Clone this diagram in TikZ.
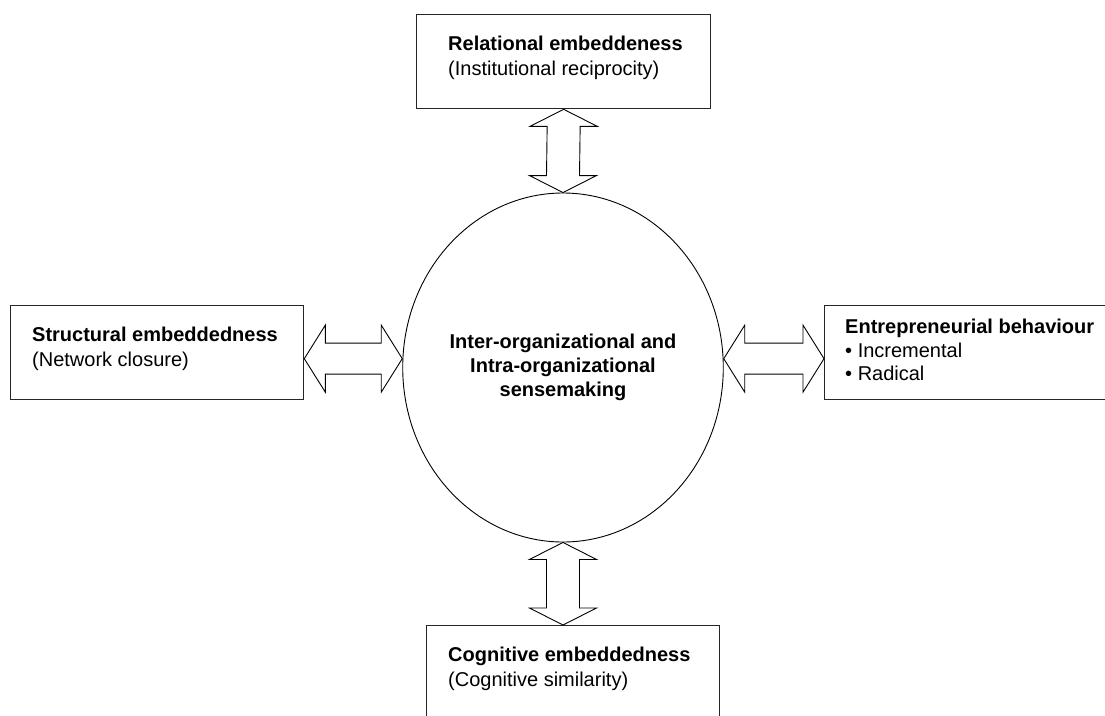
\documentclass[tikz,border=0pt]{standalone}
\usepackage{fontspec}
\setmainfont{Liberation Sans}
\usetikzlibrary{shapes.geometric,calc}

% hollow double block arrows between two named points
% vertical: first point is the upper tip, second the lower tip
\newcommand\vblock[2]{%
  \draw[blk] (#1) -- ++(33.5,17) -- ++(-17,0)
    -- ($(#2)+(16.5,-17)$) -- ($(#2)+(33.5,-17)$) -- (#2)
    -- ($(#2)+(-33.5,-17)$) -- ($(#2)+(-16.5,-17)$)
    -- ($(#1)+(-16.5,17)$) -- ($(#1)+(-33.5,17)$) -- cycle;}
% horizontal: first point is the left tip, second the right tip
\newcommand\hblock[2]{%
  \draw[blk] (#1) -- ++(21,-33.5) -- ++(0,18)
    -- ($(#2)+(-21,-15.5)$) -- ($(#2)+(-21,-33.5)$) -- (#2)
    -- ($(#2)+(-21,33.5)$) -- ($(#2)+(-21,15.5)$)
    -- ($(#1)+(21,15.5)$) -- ($(#1)+(21,33.5)$) -- cycle;}

\begin{document}
\begin{tikzpicture}[x=1pt,y=-1pt,
  box/.style={draw=black!85,line width=1.3pt,rectangle,inner sep=0pt,anchor=north west},
  hub/.style={draw,ellipse,line width=0.9pt,inner sep=0pt,
    minimum width=312pt,minimum height=349pt,align=center,
    font=\fontsize{20}{24}\selectfont\bfseries},
  head/.style={anchor=base west,inner sep=0pt,font=\fontsize{20}{24}\selectfont\bfseries},
  sub/.style={anchor=base west,inner sep=0pt,font=\fontsize{20}{24}\selectfont},
  blk/.style={draw,line width=0.9pt,line join=miter}]
\clip (0,0) rectangle (1105,715);
\fill[white] (0,0) rectangle (1105,715);

% the four surrounding boxes
\node[box,minimum width=294pt,minimum height=94pt] (rel) at (416,14) {};
\node[box,minimum width=293pt,minimum height=94pt] (str) at (10,305) {};
\node[box,minimum width=300pt,minimum height=94pt] (ent) at (824,305) {};
\node[box,minimum width=293pt,minimum height=120pt] (cog) at (426,625) {};

% central ellipse
\node[hub] (hub) at (563,367.5)
  {Inter-organizational and\\Intra-organizational\\sensemaking};

% box texts
\node[head] (relT) at ($(rel.north west)+(32,36)$) {Relational embeddeness};
\node[sub]  (relS) at ($(rel.north west)+(32,61)$) {(Institutional reciprocity)};
\node[head] (strT) at ($(str.north west)+(22,36)$) {Structural embeddedness};
\node[sub]  (strS) at ($(str.north west)+(22,61)$) {(Network closure)};
\node[head] (entT) at ($(ent.north west)+(21,28)$) {Entrepreneurial behaviour};
\node[sub]  (entA) at ($(ent.north west)+(21,52)$) {\textbullet\ Incremental};
\node[sub]  (entB) at ($(ent.north west)+(21,75)$) {\textbullet\ Radical};
\node[head] (cogT) at ($(cog.north west)+(22,36)$) {Cognitive embeddedness};
\node[sub]  (cogS) at ($(cog.north west)+(22,61)$) {(Cognitive similarity)};

% arrow end points
\coordinate (lA) at ($(str.east)+(0,6)$);
\coordinate (lB) at (hub.west |- lA);
\coordinate (rB) at ($(ent.west)+(0,6)$);
\coordinate (rA) at (hub.east |- rB);
\coordinate (bB) at (hub.south |- cog.north);

% double block arrows
\vblock{rel.south}{hub.north}
\vblock{hub.south}{bB}
\hblock{lA}{lB}
\hblock{rA}{rB}
\end{tikzpicture}
\end{document}
